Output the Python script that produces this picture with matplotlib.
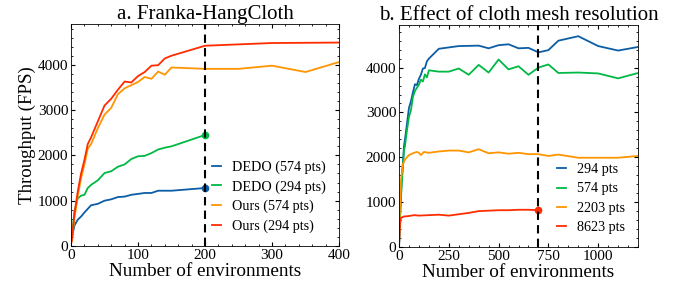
import numpy as np
import matplotlib
matplotlib.use("Agg")
import matplotlib.pyplot as plt
from matplotlib.ticker import MultipleLocator

# data: (a) Franka-HangCloth
x_dedo = [1, 5, 10, 15, 20, 25, 30, 40, 50, 60, 70, 80, 90, 100, 110, 120, 130, 140, 150, 200]
y_dedo_574 = [150, 450, 580, 650, 740, 820, 900, 930, 1000, 1030, 1080, 1090, 1130, 1150,
              1170, 1170, 1220, 1220, 1220, 1280]
y_dedo_294 = [150, 750, 1050, 1110, 1130, 1280, 1350, 1450, 1610, 1650, 1750, 1800, 1920, 1980,
              1990, 2050, 2130, 2170, 2200, 2450]

x_ours = [1, 5, 10, 15, 20, 25, 30, 40, 50, 60, 70, 80, 90, 100, 110, 120, 130, 140, 150,
          200, 250, 300, 350, 400]
y_ours_574 = [100, 600, 1100, 1500, 1800, 2150, 2250, 2600, 2900, 3050, 3350, 3480, 3550, 3620,
              3730, 3690, 3850, 3780, 3940, 3910, 3910, 3980, 3840, 4060]
y_ours_294 = [100, 700, 1200, 1600, 1900, 2250, 2400, 2750, 3100, 3250, 3450, 3630, 3610, 3750,
              3840, 3980, 3990, 4140, 4200, 4420, 4450, 4480, 4485, 4490]

# data: (b) effect of mesh resolution
x_res = [1, 5, 10, 15, 20, 25, 30, 40, 50, 60, 70, 80, 90, 100, 110, 120, 130, 140, 150,
         200, 250, 300, 350, 400, 450, 500, 550, 600, 650, 700, 750, 800, 900, 1000, 1100, 1200]
y_294 = [100, 700, 1200, 1600, 1900, 2250, 2400, 2750, 3100, 3250, 3450, 3630, 3610, 3750,
         3840, 3980, 3990, 4140, 4200, 4420, 4450, 4480, 4485, 4490, 4430, 4500, 4520, 4430,
         4440, 4340, 4390, 4600, 4700, 4480, 4380, 4460]
y_574 = [100, 600, 1100, 1500, 1800, 2150, 2250, 2600, 2900, 3050, 3350, 3480, 3550, 3620,
         3730, 3690, 3850, 3780, 3940, 3910, 3910, 3980, 3840, 4060, 3890, 4180, 3960, 4030,
         3840, 4000, 4070, 3880, 3890, 3870, 3760, 3880]
x_2203 = [1, 5, 10, 20, 30, 40, 50, 75, 90, 100, 110, 125, 150, 200, 250, 300, 350, 400,
          450, 500, 550, 600, 650, 700, 750, 800, 900, 1000, 1100, 1200]
y_2203 = [250, 900, 1500, 1850, 1950, 2000, 2050, 2100, 2120, 2100, 2050, 2120, 2100, 2130,
          2150, 2150, 2110, 2180, 2090, 2110, 2080, 2100, 2070, 2070, 2030, 2060, 1990, 1990,
          1990, 2030]
x_8623 = [1, 5, 10, 25, 50, 75, 100, 150, 200, 250, 300, 350, 400, 450, 500, 550, 600, 650, 700]
y_8623 = [100, 500, 650, 680, 690, 710, 700, 710, 720, 700, 730, 760, 800, 810, 820, 820,
          830, 830, 820]

c_blue, c_green, c_orange, c_red = '#0C5DA5', '#00B945', '#FF9500', '#FF2C00'

plt.rcParams['font.family'] = ['Liberation Serif', 'DejaVu Serif']
plt.rcParams['xtick.direction'] = 'in'
plt.rcParams['ytick.direction'] = 'in'
plt.rcParams['xtick.top'] = True
plt.rcParams['ytick.right'] = True
plt.rcParams['xtick.minor.visible'] = True
plt.rcParams['ytick.minor.visible'] = True
plt.rcParams['xtick.major.size'] = 3
plt.rcParams['ytick.major.size'] = 3
plt.rcParams['xtick.minor.size'] = 1.5
plt.rcParams['ytick.minor.size'] = 1.5
plt.rcParams['axes.linewidth'] = 0.6

fig = plt.figure(figsize=(6.81, 2.87), dpi=100)
ax1 = fig.add_axes([0.1043, 0.1429, 0.3935, 0.7735])
ax2 = fig.add_axes([0.5859, 0.1394, 0.351, 0.7735])

lw = 1.3
ax1.plot(x_dedo, y_dedo_574, color=c_blue, lw=lw, label='DEDO (574 pts)')
ax1.plot(x_dedo, y_dedo_294, color=c_green, lw=lw, label='DEDO (294 pts)')
ax1.plot(x_ours, y_ours_574, color=c_orange, lw=lw, label='Ours (574 pts)')
ax1.plot(x_ours, y_ours_294, color=c_red, lw=lw, label='Ours (294 pts)')
ax1.plot(x_dedo[-1], y_dedo_574[-1], 'o', color=c_blue, ms=4.5)
ax1.plot(x_dedo[-1], y_dedo_294[-1], 'o', color=c_green, ms=4.5)
ax1.axvline(200, color='black', ls='--', lw=1.5, dashes=(4, 2.5))
ax1.set_xlim(0, 400)
ax1.set_ylim(0, 4900)
ax1.xaxis.set_major_locator(MultipleLocator(100))
ax1.yaxis.set_major_locator(MultipleLocator(1000))
ax1.set_title('a. Franka-HangCloth', fontsize=15, pad=3)
ax1.set_xlabel('Number of environments', fontsize=13.8, labelpad=1)
ax1.set_ylabel('Throughput (FPS)', fontsize=13.6, labelpad=1)

ax2.plot(x_res, y_294, color=c_blue, lw=lw, label='294 pts')
ax2.plot(x_res, y_574, color=c_green, lw=lw, label='574 pts')
ax2.plot(x_2203, y_2203, color=c_orange, lw=lw, label='2203 pts')
ax2.plot(x_8623, y_8623, color=c_red, lw=lw, label='8623 pts')
ax2.plot(x_8623[-1], y_8623[-1], 'o', color=c_red, ms=4.5)
ax2.axvline(700, color='black', ls='--', lw=1.5, dashes=(4, 2.5))
ax2.set_xlim(0, 1200)
ax2.set_ylim(0, 4950)
ax2.xaxis.set_major_locator(MultipleLocator(250))
ax2.yaxis.set_major_locator(MultipleLocator(1000))
ax2.set_title('b. Effect of cloth mesh resolution', fontsize=15, pad=3)
ax2.set_xlabel('Number of environments', fontsize=13.8, labelpad=1)

for ax in (ax1, ax2):
    ax.tick_params(labelsize=11, pad=2)
    ax.legend(loc='lower right', frameon=False, fontsize=10.2,
              handlelength=0.64, handletextpad=0.8, labelspacing=0.45, borderaxespad=0.5)

plt.savefig('out.png', dpi=100)
